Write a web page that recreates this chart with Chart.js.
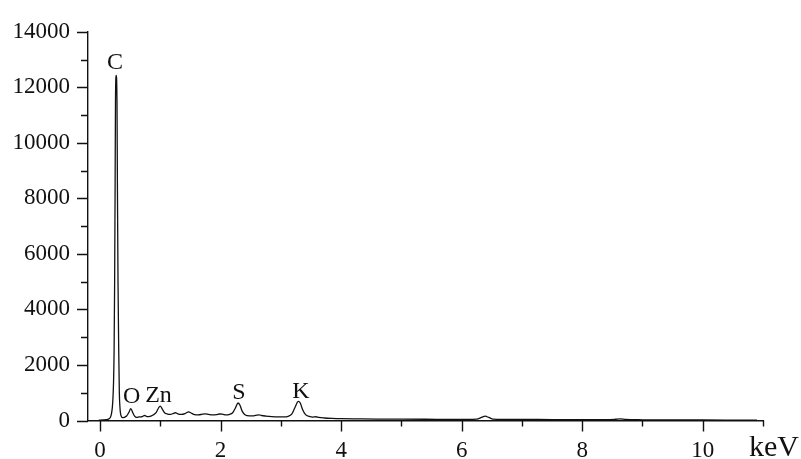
<!DOCTYPE html>
<html>
<head>
<meta charset="utf-8">
<script src="https://cdn.jsdelivr.net/npm/chart.js@4"></script>
<style>
    body { margin: 0; background: #fff; }
    #box { width: 801px; height: 459px; }
</style>
</head>
<body>
<div id="box"><canvas id="spectrum" width="801" height="459"></canvas></div>
<script>
// EDS spectrum, energy in keV and counts
const energy = [
    -0.02, 0.05, 0.10, 0.14, 0.17, 0.19, 0.205, 0.215, 0.224, 0.233, 0.242, 0.250, 0.256, 0.268, 0.281, 0.288,
    0.298, 0.310, 0.320, 0.330, 0.340, 0.355, 0.37, 0.40, 0.44, 0.48, 0.51, 0.54, 0.57, 0.61, 0.65, 0.70, 0.74,
    0.78, 0.83, 0.88, 0.93, 0.97, 1.00, 1.03, 1.07, 1.12, 1.17, 1.22, 1.25, 1.29, 1.35, 1.41, 1.47,
    1.51, 1.57, 1.63, 1.70, 1.75, 1.80, 1.87, 1.93, 1.98, 2.03, 2.09, 2.15, 2.20, 2.25, 2.29, 2.32,
    2.36, 2.41, 2.48, 2.55, 2.60, 2.64, 2.68, 2.75, 2.85, 2.95, 3.05, 3.12, 3.18, 3.23, 3.29, 3.32,
    3.36, 3.41, 3.47, 3.53, 3.58, 3.63, 3.72, 3.85, 4.00, 4.30, 4.60, 5.00, 5.40, 5.80, 6.10, 6.25,
    6.33, 6.39, 6.45, 6.52, 6.70, 7.00, 7.50, 8.00, 8.40, 8.55, 8.63, 8.72, 9.00, 9.50, 10.00, 10.50, 10.90
]
const counts = [
    10, 20, 30, 50, 110, 250, 500, 850, 1400, 2500, 5000, 8500, 11500, 12430, 11500, 8500,
    5000, 2500, 1000, 480, 250, 140, 100, 110, 160, 300, 430, 300, 170, 110, 130, 140, 180,
    140, 150, 200, 280, 450, 515, 420, 280, 230, 220, 260, 280, 240, 220, 250, 310,
    270, 210, 200, 230, 240, 220, 200, 210, 235, 230, 200, 220, 280, 470, 630, 560,
    330, 200, 170, 170, 190, 200, 180, 160, 140, 130, 130, 150, 230, 450, 690, 640,
    400, 210, 150, 125, 135, 110, 90, 75, 65, 58, 52, 48, 45, 42, 40, 50,
    110, 155, 110, 50, 40, 38, 34, 30, 28, 45, 62, 38, 25, 20, 18, 15, 14
]

// peak labels: element, energy of label centre, counts at label baseline
const peakNames = [`C`, `O`, `Zn`, `S`, `K`]
const peakEnergy = [0.25, 0.524, 0.97, 2.306, 3.334]
const peakCounts = [12650, 620, 665, 785, 795]

const xMajor = [0, 2, 4, 6, 8, 10]
const xMinor = [1, 3, 5, 7, 9, 11]
const yMajor = [0, 2000, 4000, 6000, 8000, 10000, 12000, 14000]
const yMinor = [1000, 3000, 5000, 7000, 9000, 11000, 13000]

const serif = `"Liberation Serif", "Times New Roman", serif`
const ink = `#111`

const points = energy.map((e, i) => ({ x: e, y: counts[i] }))

const extras = {
    id: `extras`,
    afterDraw(chart) {
        const ctx = chart.ctx
        const xs = chart.scales.x
        const ys = chart.scales.y
        const xAxis = ys.getPixelForValue(0)
        const yAxis = xs.getPixelForValue(-0.2)

        ctx.save()
        ctx.strokeStyle = ink
        ctx.lineWidth = 1.4
        ctx.beginPath()
        xMajor.forEach(v => {
            const px = Math.round(xs.getPixelForValue(v)) + 0.5
            ctx.moveTo(px, xAxis); ctx.lineTo(px, xAxis + 11)
        })
        xMinor.forEach(v => {
            const px = Math.round(xs.getPixelForValue(v)) + 0.5
            ctx.moveTo(px, xAxis); ctx.lineTo(px, xAxis + 6)
        })
        yMajor.forEach(v => {
            const py = Math.round(ys.getPixelForValue(v)) + 0.5
            ctx.moveTo(yAxis, py); ctx.lineTo(yAxis - 11, py)
        })
        yMinor.forEach(v => {
            const py = Math.round(ys.getPixelForValue(v)) + 0.5
            ctx.moveTo(yAxis, py); ctx.lineTo(yAxis - 7, py)
        })
        ctx.stroke()

        ctx.fillStyle = ink
        ctx.font = `24px ${serif}`
        ctx.textAlign = `center`
        ctx.textBaseline = `alphabetic`
        peakNames.forEach((name, i) => {
            ctx.fillText(name, xs.getPixelForValue(peakEnergy[i]), ys.getPixelForValue(peakCounts[i]))
        })

        ctx.font = `30px ${serif}`
        ctx.textAlign = `left`
        ctx.fillText(`keV`, 749, 456)
        ctx.restore()
    }
}

new Chart(document.getElementById(`spectrum`), {
    type: `scatter`,
    data: {
        datasets: [{
            data: points,
            showLine: true,
            borderColor: ink,
            borderWidth: 1.3,
            pointRadius: 0,
            cubicInterpolationMode: `monotone`
        }]
    },
    options: {
        responsive: false,
        animation: false,
        devicePixelRatio: 1,
        layout: { padding: { top: 23, right: 38, left: 0, bottom: 0 } },
        plugins: { legend: { display: false }, tooltip: { enabled: false } },
        scales: {
            x: {
                type: `linear`,
                min: -0.2,
                max: 11,
                afterBuildTicks: scale => { scale.ticks = xMajor.map(v => ({ value: v })) },
                afterFit: scale => { scale.height = 38.5 },
                grid: { display: false, drawTicks: false },
                border: { display: true, color: ink, width: 1.4 },
                ticks: { padding: 17, color: ink, font: { family: serif, size: 23 }, maxRotation: 0, callback: v => String(v) }
            },
            y: {
                min: 0,
                max: 14000,
                afterBuildTicks: scale => { scale.ticks = yMajor.map(v => ({ value: v })) },
                afterFit: scale => { scale.width = 88 },
                grid: { display: false, drawTicks: false },
                border: { display: true, color: ink, width: 1.4 },
                ticks: { padding: 18, color: ink, font: { family: serif, size: 23 }, callback: v => String(v) }
            }
        }
    },
    plugins: [extras]
})
</script>
</body>
</html>
